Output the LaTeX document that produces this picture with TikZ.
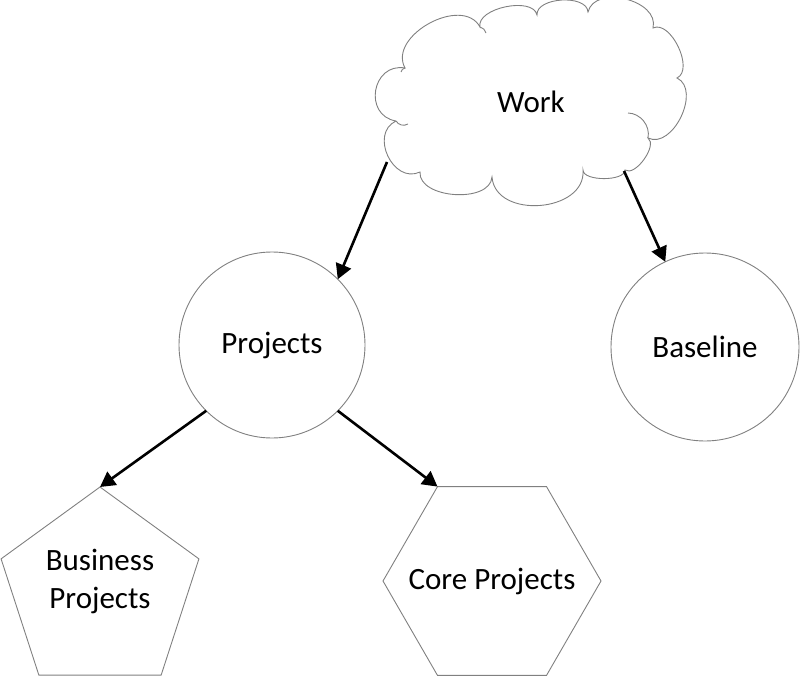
\documentclass[tikz,border=0pt]{standalone}
\usepackage{fontspec}
\setmainfont{Carlito}
\usetikzlibrary{shapes.geometric,arrows.meta}
\begin{document}
\begin{tikzpicture}[x=1pt,y=-1pt,
  outline/.style={draw=black!50,line width=0.9pt},
  lbl/.style={font=\fontsize{31}{38}\selectfont,align=center,inner sep=0pt},
  circ/.style={outline,circle,minimum size=#1,inner sep=0pt,outer sep=0pt},
  poly/.style={outline,regular polygon,regular polygon sides=#1,inner sep=0pt,outer sep=0pt},
  conn/.style={line width=2.6pt,-{Triangle[length=15pt,width=16pt]}},
  bump/.style={bend left=90,looseness=#1}]
\useasboundingbox (0,0) rectangle (800,676);
% cloud
\coordinate (a) at (396,121);
\coordinate (b) at (405,68);
\coordinate (c) at (480,27);
\coordinate (d) at (537,15);
\coordinate (e) at (588,12);
\coordinate (f) at (653,28);
\coordinate (g) at (677,78);
\coordinate (h) at (648,138);
\coordinate (i) at (625,170);
\coordinate (j) at (583,170);
\coordinate (k) at (492,177);
\coordinate (l) at (420,172);
\draw[outline] (a) to[bump=1.6] (b) to[bump=1.1] (c) to[bump=0.85] (d)
  to[bump=0.9] (e) to[bump=1.1] (f) to[bump=0.9] (g) to[bump=1.05] (h)
  to[bump=0.8] (i) to[bump=0.7] (j) to[bump=1.2] (k) to[bump=0.95] (l)
  to[bump=1.35] (a);
\draw[outline] (a) to[bend right=45] (408,124);
\draw[outline] (c) to[bend left=30] (486,33);
\draw[outline] (628,113) to[bend left=50] (h);
\draw[outline] (405,68) to[bend right=30] (401,72);
\node[lbl] (work) at (531,102) {Work};
\coordinate (cw1) at (387,162);
\coordinate (cw2) at (624,171);
% circles
\node[circ=186pt,lbl,outline] (projects) at (272,345) {Projects};
\node[circ=188pt,lbl,outline] (baseline) at (705,347) {Baseline};
% polygons
\node[poly=5,minimum size=208pt] (biz) at (100,591) {};
\node[lbl] (biztext) at (100,581) {Business\\Projects};
\node[poly=6,minimum size=218pt] (core) at (492,581) {};
\node[lbl] (coretext) at (492,581) {Core Projects};
% connectors
\draw[conn] (cw1) -- (projects.45);
\draw[conn] (cw2) -- (baseline.115);
\draw[conn] (projects.225) -- (biz.90);
\draw[conn] (projects.-45) -- (core.120);
\end{tikzpicture}
\end{document}
